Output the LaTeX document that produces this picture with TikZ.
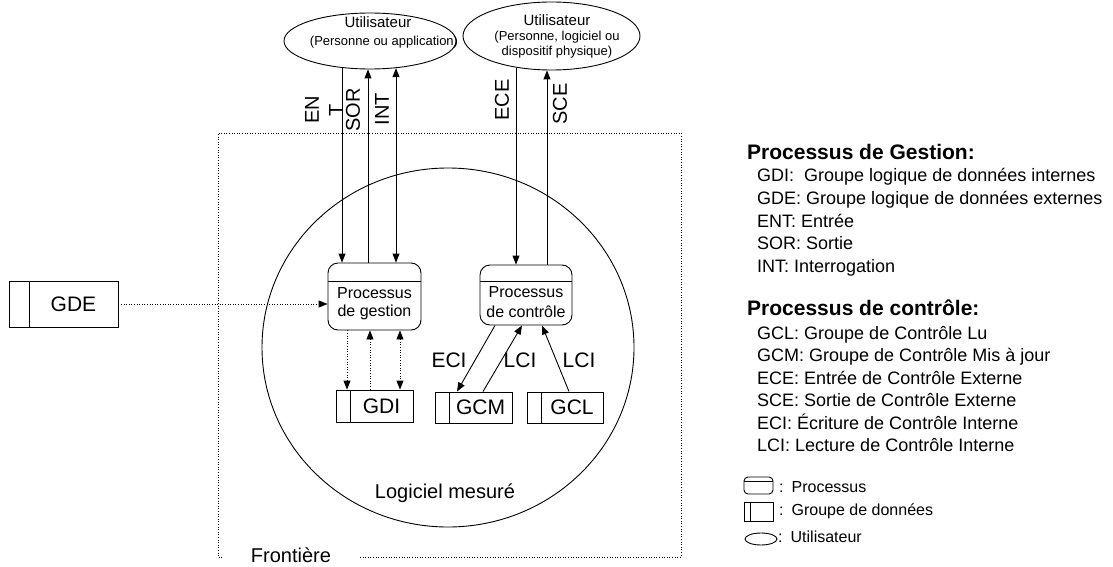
\documentclass[tikz,border=0pt]{standalone}
\usepackage{fontspec}
\setmainfont{Liberation Sans}
\usetikzlibrary{arrows.meta,shapes.geometric}
\newcommand{\fsz}[2]{\fontsize{#1}{#2}\selectfont}

\begin{document}
\begin{tikzpicture}[x=1pt,y=-1pt,
    flow/.style={-{Triangle[length=9pt,width=7pt]}, line width=0.9pt},
    biflow/.style={{Triangle[length=9pt,width=7pt]}-{Triangle[length=9pt,width=7pt]}, line width=0.9pt},
    dots/.style={dash pattern=on 1pt off 1.6pt},
    user/.style={draw, ellipse, inner sep=0pt, line width=0.9pt},
    procbox/.style={draw, rounded corners=10pt, inner sep=0pt, line width=0.9pt,
      path picture={\draw ([yshift=-#1]path picture bounding box.north west) -- ([yshift=-#1]path picture bounding box.north east);}},
    procbox/.default=18pt,
    ptext/.style={align=center, inner sep=0pt, font=\fsz{16}{18}},
    datagrp/.style={draw, inner sep=0pt, line width=0.9pt, font=\fsz{21}{24},
      path picture={\draw ([xshift=#1]path picture bounding box.north west) -- ([xshift=#1]path picture bounding box.south west);},
      execute at begin node={\hspace*{#1}}},
    datagrp/.default=14pt,
    vlab/.style={rotate=90, align=center, inner sep=0pt, font=\fsz{20}{24}},
    flab/.style={inner sep=0pt, font=\fsz{21}{24}},
    head/.style={inner sep=0pt, font=\bfseries\fsz{21}{24}},
    item/.style={inner sep=0pt, font=\fsz{18}{22}},
    sym/.style={inner sep=0pt, font=\fsz{16}{18}}]
  \useasboundingbox (0,0) rectangle (1113,567);

  % logiciel mesure et frontiere
  \node[user, minimum width=372pt, minimum height=359pt] (soft) at (448,347.5) {};
  \node[inner sep=0pt, font=\fsz{20}{24}] (softlbl) at (445,493) {Logiciel mesuré};
  \draw[dots] (360,557) -- (681,557) -- (681,133) -- (218,133) -- (218,557) -- (224,557);
  \node[inner sep=0pt, font=\fsz{20}{24}] (front) at (291,555) {Frontière};

  % utilisateurs
  \node[user, minimum width=172pt, minimum height=56pt] (ua) at (370,41) {};
  \node[inner sep=0pt, font=\fsz{15}{18}] (ua1) at (378,22) {Utilisateur};
  \node[inner sep=0pt, font=\fsz{13}{16}] (ua2) at (384,42) {(Personne ou application)};
  \node[user, minimum width=177pt, minimum height=68pt] (ub) at (551.5,36) {};
  \node[inner sep=0pt, font=\fsz{15}{18}] (ub1) at (557,20) {Utilisateur};
  \node[inner sep=0pt, font=\fsz{13}{16}] (ub2) at (557,37) {(Personne, logiciel ou};
  \node[inner sep=0pt, font=\fsz{13}{16}] (ub3) at (557,52) {dispositif physique)};

  % processus
  \node[procbox, minimum width=93pt, minimum height=67pt] (pg) at (374.5,296.5) {};
  \node[ptext] (pgt) at (374.5,304) {Processus\\de gestion};
  \node[procbox=16pt, minimum width=92pt, minimum height=60pt] (pc) at (526,295) {};
  \node[ptext, font=\fsz{16}{20}] (pct) at (526,302) {Processus\\de contrôle};

  % groupes de donnees
  \node[datagrp, minimum width=77pt, minimum height=32pt] (gdi) at (374.5,406) {GDI};
  \node[datagrp, minimum width=77pt, minimum height=31pt] (gcm) at (473.5,407.5) {GCM};
  \node[datagrp, minimum width=76pt, minimum height=31pt] (gcl) at (565,407.5) {GCL};
  \node[datagrp=20pt, minimum width=109pt, minimum height=46pt] (gde) at (63.5,304) {GDE};

  % mouvements vers les utilisateurs
  \coordinate (ent) at ([xshift=-32.5pt]pg.north);
  \coordinate (sor) at ([xshift=-6.5pt]pg.north);
  \coordinate (int) at ([xshift=21.5pt]pg.north);
  \coordinate (ece) at ([xshift=-10pt]pc.north);
  \coordinate (sce) at ([xshift=21pt]pc.north);
  \draw[flow] ([yshift=1.5pt]ua.south -| ent) -- (ent);
  \draw[flow] (sor) -- (ua.south -| sor);
  \draw[biflow] ([yshift=1.3pt]ua.south -| int) -- (int);
  \draw[flow] ([yshift=2.9pt]ub.south -| ece) -- (ece);
  \draw[flow] (sce) -- (ub.south -| sce);
  \node[vlab] (lent) at (324,110) {EN\\T};
  \node[vlab] (lsor) at (353,110) {SOR};
  \node[vlab] (lint) at (382,109) {INT};
  \node[vlab] (lece) at (502,100) {ECE};
  \node[vlab] (lsce) at (560,104) {SCE};

  % mouvements internes
  \begin{scope}[dots]
    \draw[flow] (gde.east) -- (gde.east -| pg.west);
    \draw[flow] ([xshift=-27.5pt]pg.south) -- ([xshift=-27.5pt]gdi.north);
    \draw[flow] ([xshift=-4.5pt]gdi.north) -- ([xshift=-4.5pt]pg.south);
    \draw[biflow] ([xshift=25.5pt]pg.south) -- ([xshift=25.5pt]gdi.north);
  \end{scope}
  \draw[flow] ([xshift=-31pt]pc.south) -- ([xshift=-16.5pt]gcm.north);
  \draw[flow] ([xshift=9.5pt]gcm.north) -- ([xshift=-4pt]pc.south);
  \draw[flow] ([xshift=4pt]gcl.north) -- ([xshift=16pt]pc.south);
  \node[flab] (leci) at (449,360) {ECI};
  \node[flab] (llci) at (520,360) {LCI};
  \node[flab] (llcl) at (579,360) {LCI};

  % legende
  \node[head, anchor=base west] (hgest) at (747,159.5) {Processus de Gestion:};
  \foreach \txt [count=\i from 0] in {GDI:~ Groupe logique de données internes,
      GDE: Groupe logique de données externes, ENT: Entrée, SOR: Sortie, INT: Interrogation}
    \node[item, anchor=base west] (gest\i) at (757,181.5+22.75*\i) {\txt};
  \node[head, anchor=base west] (hctrl) at (747,315.5) {Processus de contrôle:};
  \foreach \txt [count=\i from 0] in {GCL: Groupe de Contrôle Lu,
      GCM: Groupe de Contrôle Mis à jour, ECE: Entrée de Contrôle Externe,
      SCE: Sortie de Contrôle Externe, ECI: Écriture de Contrôle Interne,
      LCI: Lecture de Contrôle Interne}
    \node[item, anchor=base west] (ctrl\i) at (757,339.5+22.4*\i) {\txt};

  \node[procbox=4pt, rounded corners=4pt, minimum width=29pt, minimum height=17pt] (symproc) at (758.5,485.5) {};
  \node[datagrp=6pt, minimum width=29pt, minimum height=19pt] (symdata) at (758.5,511.5) {};
  \node[user, minimum width=32pt, minimum height=12pt] (symuser) at (761,539) {};
  \node[sym, anchor=west] (lproc) at (779,487) {:\enspace Processus};
  \node[sym, anchor=west] (ldata) at (779,511) {:\enspace Groupe de données};
  \node[sym, anchor=west] (luser) at (778,537) {:\enspace Utilisateur};
\end{tikzpicture}
\end{document}
